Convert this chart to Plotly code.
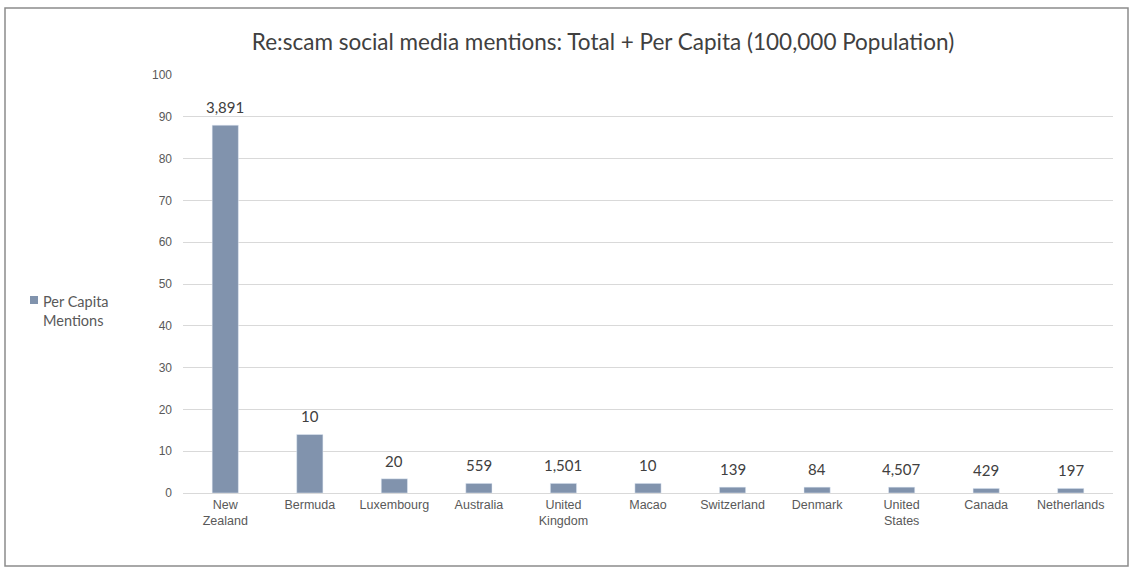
import plotly.graph_objects as go

categories = ["New<br>Zealand", "Bermuda", "Luxembourg", "Australia", "United<br>Kingdom",
              "Macao", "Switzerland", "Denmark", "United<br>States", "Canada", "Netherlands"]
per_capita = [88.0, 14.0, 3.4, 2.3, 2.3, 2.3, 1.4, 1.4, 1.4, 1.1, 1.1]
total_mentions = ["3,891", "10", "20", "559", "1,501", "10", "139", "84", "4,507", "429", "197"]
y_ticks = [0, 10, 20, 30, 40, 50, 60, 70, 80, 90, 100]
series_name = "Per Capita<br>Mentions"
bar_color = "#8193ad"

L, R, T, B = 183, 22, 75, 81
W, H = 1135, 574
pw, ph = W - L - R, H - T - B

def px_x(x):
    return (x - L) / pw

def px_y(y):
    return (H - B - y) / ph

fig = go.Figure()
fig.add_trace(go.Bar(
    x=categories, y=per_capita, name=series_name,
    marker_color=bar_color,
    cliponaxis=False, showlegend=False,
))

label_annotations = [
    dict(x=c, y=v, text=t, xref="x", yref="y", showarrow=False,
         xanchor="center", yanchor="bottom", yshift=7,
         font=dict(family="Lato", size=15, color="#404040"))
    for c, v, t in zip(categories, per_capita, total_mentions)
]

fig.update_layout(
    width=W, height=H,
    margin=dict(l=L, r=R, t=T, b=B),
    paper_bgcolor="white", plot_bgcolor="white",
    bargap=0.69,
    title=dict(text="Re:scam social media mentions: Total + Per Capita (100,000 Population)",
               x=px_x(603), xref="paper", xanchor="center",
               y=1 - 42 / H, yanchor="middle",
               font=dict(family="Lato", size=22.5, color="#404040")),
    font=dict(family="Liberation Sans", color="#595959"),
    xaxis=dict(showgrid=False, showline=True, linecolor="#d9d9d9", linewidth=1,
               tickfont=dict(family="Liberation Sans", size=12.5, color="#595959"),
               ticks=""),
    yaxis=dict(range=[0, 100], tickvals=y_ticks, showgrid=True, gridcolor="#d9d9d9",
               gridwidth=1, zeroline=False, ticks="",
               tickfont=dict(family="Liberation Sans", size=12, color="#595959"),
               ticklabelstandoff=10),
    shapes=[
        dict(type="rect", xref="paper", yref="paper",
             x0=px_x(5), x1=px_x(1128), y0=px_y(566), y1=px_y(8),
             line=dict(color="#8c8c8c", width=1.5), fillcolor="rgba(0,0,0,0)", layer="below"),
        dict(type="rect", xref="paper", yref="paper",
             x0=px_x(30), x1=px_x(38), y0=px_y(304), y1=px_y(296),
             line=dict(width=0), fillcolor=bar_color),
    ],
    annotations=label_annotations + [
        dict(text=series_name, xref="paper", yref="paper", x=px_x(41), y=px_y(311),
             xanchor="left", yanchor="middle", align="left", showarrow=False,
             font=dict(family="Lato", size=14.5, color="#595959")),
    ],
)

fig.write_html("out.html")
